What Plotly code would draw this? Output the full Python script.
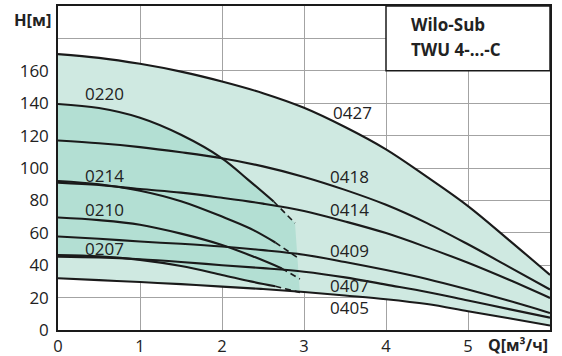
import plotly.graph_objects as go

# ---- data ----
q_4xx = [0, 0.5, 1, 1.5, 2, 2.5, 3, 3.5, 4, 4.5, 5, 5.5, 6]
h_0427 = [170.3, 168, 164.3, 159.5, 153.4, 146.2, 137.2, 125.3, 111.5, 94.5, 76.5, 55.5, 34]
h_0418 = [117, 115.3, 112.9, 109.7, 106, 101, 94.5, 86.5, 77.3, 66, 52.9, 39, 25]
h_0414 = [91, 89.5, 87, 84.8, 81.6, 78, 73.5, 67, 59.8, 51, 41.5, 31, 19.8]
h_0409 = [57.7, 56.3, 54.6, 53.2, 51.5, 49.3, 46.5, 42, 37, 31.5, 25, 18, 10.5]
h_0407 = [45.3, 44.8, 43.7, 42, 40, 38.2, 36, 32.5, 28, 23.5, 18.2, 12.9, 7.6]
h_0405 = [31.9, 30.8, 29.6, 28.3, 26.8, 25.3, 23.5, 21.3, 19, 16, 11.6, 7.2, 2.8]

q_0220 = [0, 0.5, 1, 1.5, 2, 2.32, 2.63, 2.89]
h_0220 = [139.5, 137, 131, 120.5, 106, 92.7, 79.3, 66]
q_0214 = [0, 0.5, 1, 1.5, 2, 2.35, 2.65, 2.93]
h_0214 = [92, 90, 86, 79.5, 70, 62.5, 54, 44.4]
q_0210 = [0, 0.5, 1, 1.5, 2, 2.4, 2.73, 2.95]
h_0210 = [69.4, 67.8, 65, 59.5, 52.5, 45, 38, 31.5]
q_0207 = [0, 0.5, 1, 1.5, 2, 2.35, 2.65, 2.95]
h_0207 = [46.3, 45.5, 43.3, 39.5, 34, 30, 27, 23.2]
dash_from = 6  # index where the dashed part of each 02xx curve starts

labels = ["0427", "0418", "0414", "0409", "0407", "0405", "0220", "0214", "0210", "0207"]
label_q = [3.59, 3.56, 3.56, 3.56, 3.56, 3.56, 0.57, 0.57, 0.57, 0.57]
label_h = [134.4, 94.6, 74.2, 48.9, 27.3, 13.6, 146, 95.2, 74.2, 50.1]

x_ticks = [0, 1, 2, 3, 4, 5]
y_ticks = [0, 20, 40, 60, 80, 100, 120, 140, 160, 180]
y_ticktext = ["0", "20", "40", "60", "80", "100", "120", "140", "160", ""]
title_lines = ["Wilo-Sub", "TWU 4-...-C"]
title_h = [188.4, 173]

LIGHT = "#cfe9e1"
DARK = "#b3dfd3"
LINE = "#1a1a1a"
TXT = "#222"
FONT = "Open Sans"

fig = go.Figure()

def add(x, y, **kw):
    fig.add_trace(go.Scatter(x=x, y=y, mode="lines", showlegend=False,
                             hoverinfo="skip", **kw))

# envelopes
add(q_4xx, h_0405, line=dict(width=0, shape="spline"))
add(q_4xx, h_0427, line=dict(width=0, shape="spline"), fill="tonexty", fillcolor=LIGHT)
add(q_0207, h_0207, line=dict(width=0, shape="spline"))
add(q_0220, h_0220, line=dict(width=0, shape="spline"), fill="tonexty", fillcolor=DARK)

# 04xx curves
for h in [h_0427, h_0418, h_0414, h_0409, h_0407, h_0405]:
    add(q_4xx, h, line=dict(color=LINE, width=2.1, shape="spline"))

# 02xx curves: solid then dashed
for q, h in [(q_0220, h_0220), (q_0214, h_0214), (q_0210, h_0210), (q_0207, h_0207)]:
    add(q[:dash_from + 1], h[:dash_from + 1], line=dict(color=LINE, width=2.1, shape="spline"))
    add(q[dash_from:], h[dash_from:], line=dict(color=LINE, width=1.6, dash="6px,4px"))

for t, qx, hy in zip(labels, label_q, label_h):
    fig.add_annotation(x=qx, y=hy, text=t, showarrow=False, borderpad=0,
                       font=dict(family=FONT, size=17, color=TXT))

# title box
fig.add_shape(type="rect", x0=4, x1=6, y0=160, y1=200, xref="x", yref="y",
              fillcolor="white", line=dict(color=LINE, width=1.5), layer="above")
for t, hy in zip(title_lines, title_h):
    fig.add_annotation(x=4.285, y=hy, xref="x", yref="y", xanchor="left", yanchor="middle",
                       showarrow=False, text="<b>" + t + "</b>",
                       font=dict(family=FONT, size=17, color=TXT))

# axis titles
fig.add_annotation(x=0.0, y=1.0, xref="paper", yref="paper", xanchor="right", yanchor="top",
                   xshift=-5, yshift=0, text="<b>H[м]</b>", showarrow=False,
                   font=dict(family=FONT, size=16.5, color=TXT))
fig.add_annotation(x=1.0, y=0.0, xref="paper", yref="paper", xanchor="right", yanchor="top",
                   xshift=0, yshift=-2, text="<b>Q[м³/ч]</b>", showarrow=False,
                   font=dict(family=FONT, size=16, color=TXT))

fig.update_xaxes(range=[0, 6], tickvals=x_ticks, ticktext=[str(v) for v in x_ticks],
                 automargin=False,
                 showgrid=True, gridcolor="#a3a3a3", gridwidth=1, zeroline=False,
                 showline=True, linecolor=LINE, linewidth=1.5, mirror=True,
                 ticks="", ticklabelstandoff=0, tickfont=dict(family=FONT, size=16.5, color=TXT))
fig.update_yaxes(range=[0, 200], tickvals=y_ticks, ticktext=y_ticktext,
                 automargin=False,
                 showgrid=True, gridcolor="#a3a3a3", gridwidth=1, zeroline=False,
                 showline=True, linecolor=LINE, linewidth=1.5, mirror=True,
                 ticks="", ticklabelstandoff=4, tickfont=dict(family=FONT, size=17, color=TXT))

fig.update_layout(width=562, height=356, margin=dict(l=58, r=12, t=6, b=26),
                  paper_bgcolor="white", plot_bgcolor="white", showlegend=False)

fig.write_html("out.html")
